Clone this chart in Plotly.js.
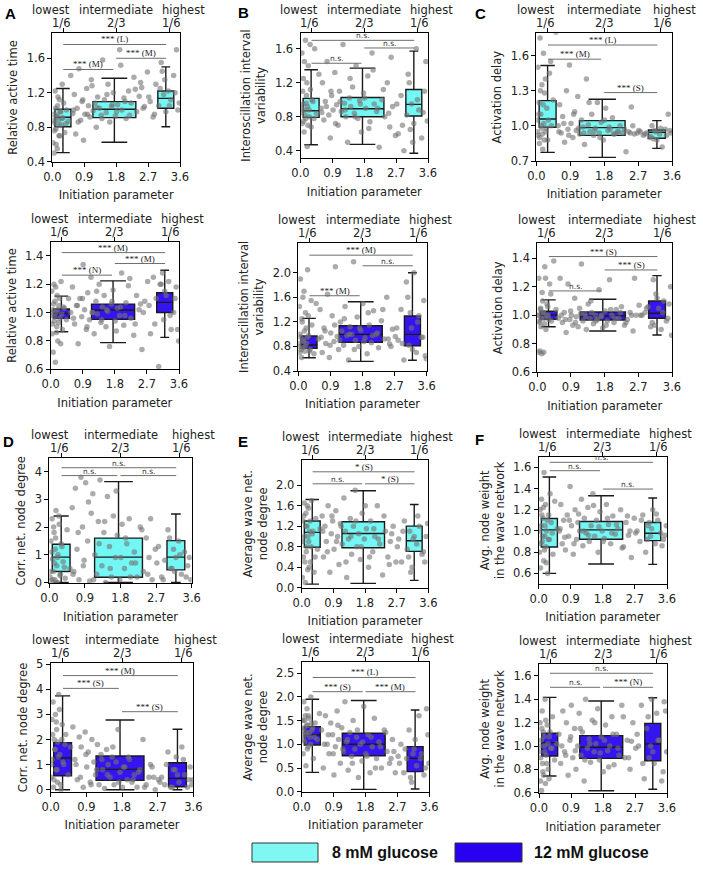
<!DOCTYPE html>
<html><head><meta charset="utf-8">
<script src="https://cdn.plot.ly/plotly-3.0.1.min.js"></script>
<style>html,body{margin:0;padding:0;background:#fff}#chart{width:703px;height:869px}</style>
</head><body><div id="chart"></div>
<script>
// ---------------- DATA ----------------
const TOP_TICK_WORD = ['lowest', 'intermediate', 'highest'];
const TOP_TICK_FRAC = ['1/6', '2/3', '1/6'];
const X_TITLE = 'Initiation parameter';
const LEGEND_LABELS = ['8 mM glucose', '12 mM glucose'];

// initiation parameter of each cell (8 mM and 12 mM)
const X8 = [0.02,0.04,0.05,0.07,0.08,0.10,0.12,0.14,0.15,0.17,0.19,0.20,0.22,0.25,0.28,0.30,0.35,0.40,0.45,0.52,
0.58,0.62,0.66,0.70,0.75,0.80,0.84,0.88,0.92,0.97,1.02,1.06,1.10,1.15,1.20,1.24,1.28,1.33,1.38,1.42,
1.47,1.52,1.57,1.62,1.67,1.72,1.78,1.84,1.90,1.96,2.02,2.08,2.15,2.22,2.30,2.38,2.45,2.52,2.60,2.68,
2.76,2.84,2.92,3.00,3.07,3.14,3.20,3.27,3.34,3.42,3.50,3.58,
0.03,0.06,0.09,0.11,0.13,0.16,0.18,0.21,0.24,0.27,0.32,0.38,
0.60,0.73,0.86,0.99,1.12,1.26,1.40,1.54,1.69,1.81,1.93,2.05,2.18,2.34,2.49,2.56,
2.72,2.88,3.04,3.17,3.30,3.46,3.54,3.10];
const X12 = [0.01,0.03,0.04,0.06,0.07,0.09,0.10,0.12,0.13,0.15,0.17,0.18,0.20,0.23,0.26,0.29,0.33,0.38,0.44,0.50,
0.56,0.61,0.67,0.72,0.77,0.82,0.87,0.91,0.95,1.00,1.04,1.09,1.13,1.18,1.22,1.27,1.31,1.36,1.41,1.45,
1.50,1.55,1.60,1.65,1.70,1.75,1.81,1.87,1.93,1.99,2.05,2.11,2.18,2.25,2.33,2.41,2.48,2.56,2.64,2.72,
2.80,2.88,2.96,3.03,3.10,3.17,3.24,3.31,3.38,3.45,3.52,3.59,
0.02,0.05,0.08,0.11,0.14,0.16,0.19,0.22,0.25,0.28,0.31,0.36,
0.64,0.75,0.89,1.02,1.16,1.29,1.43,1.57,1.72,1.84,1.96,2.08,2.22,2.37,2.52,2.60,
2.76,2.92,3.07,3.20,3.35,3.49,3.56,3.14];

// per-cell values
const A1_Y = [0.62,0.95,0.50,0.85,1.22,0.78,0.92,0.55,1.05,0.88,0.70,1.12,0.98,0.83,1.30,0.91,0.74,1.00,0.87,1.40,
0.96,1.18,0.72,1.02,1.48,0.88,1.10,0.65,0.95,1.25,1.05,0.92,1.35,0.99,1.08,0.80,1.15,1.02,0.94,1.58,
1.12,0.97,1.30,0.86,1.04,1.20,0.93,1.06,1.70,1.00,1.14,0.90,1.22,1.08,1.38,0.98,1.16,1.26,1.04,1.44,
1.10,0.92,1.30,1.05,1.55,1.18,0.98,1.22,1.12,1.40,1.70,1.08,
0.88,0.76,1.02,0.60,0.94,1.15,0.82,0.70,0.98,0.90,1.08,0.84,
1.00,0.86,1.12,0.95,1.28,1.03,0.90,1.18,1.06,0.98,1.52,1.10,0.94,1.24,1.32,1.02,
1.15,0.95,1.25,1.35,1.05,1.20,1.00,1.45];
const B1_Y = [0.85,1.55,0.72,0.95,1.25,0.62,0.88,1.70,0.78,1.05,0.45,0.92,1.40,0.80,1.12,0.68,0.98,1.60,0.84,1.30,
0.90,1.20,0.76,0.98,1.45,0.82,0.55,1.05,0.88,1.32,0.94,0.70,1.10,0.86,1.65,0.96,0.80,0.50,1.02,0.92,
1.15,0.84,1.40,0.78,0.99,0.62,1.08,0.90,1.28,0.74,1.55,0.95,0.86,0.44,1.00,0.80,1.20,0.68,0.92,0.58,
0.60,1.05,0.40,0.82,1.20,0.95,0.72,1.60,0.88,0.55,1.10,0.75,
0.90,1.10,0.75,1.45,0.82,0.96,1.20,0.70,0.88,1.65,1.00,0.78,
0.85,0.92,1.10,0.72,0.98,0.88,1.25,0.80,0.95,1.02,0.66,1.35,0.90,1.12,0.84,1.50,
0.95,0.70,1.30,0.50,1.00,0.85,1.45,0.65];
const C1_Y = [1.05,1.50,0.92,1.20,0.85,1.75,1.10,0.98,1.35,0.80,1.62,1.02,1.28,0.95,1.15,0.88,1.45,1.00,1.22,1.80,
1.00,1.18,0.94,1.08,0.86,1.30,0.97,1.52,1.02,0.90,1.12,0.96,1.25,0.93,1.05,0.99,0.84,1.40,1.01,0.95,
1.10,0.92,0.98,1.20,0.94,1.03,0.88,1.15,0.96,0.97,1.07,0.93,0.95,1.00,0.94,0.78,0.95,1.16,0.93,0.94,
0.95,0.92,0.94,0.90,1.00,0.96,0.88,0.93,0.82,0.97,1.10,0.94,
0.95,1.10,0.90,1.30,1.00,0.93,1.18,0.88,1.40,0.98,1.05,1.55,
0.95,1.02,0.92,1.10,0.98,0.94,1.20,0.96,0.90,1.05,0.99,0.93,0.95,0.97,0.94,1.00,
0.96,0.93,0.91,0.95,0.98,0.92,0.96,0.89];
const A2_Y = [0.98,1.15,0.85,1.02,0.72,1.20,0.94,1.08,0.65,1.00,0.90,1.12,0.80,1.05,0.96,1.22,0.88,1.03,0.95,1.10,
1.00,1.18,0.92,1.05,0.78,1.10,0.97,1.34,1.02,0.88,1.14,0.95,1.25,1.00,0.85,1.08,0.99,1.20,0.93,1.04,
1.12,0.90,1.01,0.76,1.06,1.16,0.94,1.03,0.98,1.28,0.91,1.07,1.19,0.96,0.84,1.12,1.02,0.74,1.08,1.22,
0.85,1.25,1.10,0.62,1.20,0.95,1.12,1.22,0.88,1.00,1.18,0.80,
1.00,0.92,1.06,0.97,1.18,0.86,1.02,0.93,1.10,0.78,0.99,1.04,
0.96,1.05,1.10,0.90,1.00,1.15,0.95,1.02,1.08,0.87,1.04,0.98,1.24,0.92,1.06,1.00,
1.05,0.92,1.20,1.15,0.98,1.10,0.88,1.28];
const B2_Y = [0.80,1.45,0.70,1.90,0.95,0.62,1.25,0.78,1.60,0.88,1.05,0.72,1.35,0.85,2.05,0.98,0.75,1.15,0.68,1.50,
0.92,1.40,0.70,1.10,0.85,1.65,0.62,1.02,1.30,0.88,2.10,0.96,0.75,1.20,1.05,0.82,1.45,0.98,0.58,1.12,
1.00,2.18,0.90,1.28,0.80,1.06,1.50,0.94,0.68,1.15,0.86,1.38,1.00,0.78,1.22,0.92,1.60,0.84,1.08,0.96,
0.90,1.40,0.58,1.85,0.82,1.10,2.00,0.70,1.30,0.95,1.55,0.60,
0.85,1.00,0.75,1.20,0.90,1.70,0.80,1.10,0.95,1.30,0.72,1.55,
0.95,1.05,0.82,1.15,0.90,1.25,1.00,0.75,1.10,0.88,1.35,0.98,1.02,1.40,0.92,0.80,
1.10,0.85,1.60,0.75,1.20,0.95,0.65,1.35];
const C2_Y = [1.00,0.74,1.26,0.95,0.75,1.05,0.92,0.73,1.16,1.02,0.74,0.98,1.34,0.90,1.08,1.00,1.22,0.96,1.38,1.04,
0.98,1.26,0.95,1.02,0.88,1.22,0.97,1.00,0.93,1.12,0.99,0.92,1.05,1.36,0.96,1.01,0.90,1.08,0.98,1.02,
0.94,1.00,0.97,1.18,0.99,0.91,1.03,0.96,1.25,1.00,0.95,1.04,0.98,1.06,0.93,0.97,1.02,0.89,1.00,1.07,
1.00,1.02,1.06,0.92,1.25,1.15,1.05,0.90,1.10,0.96,1.08,0.86,
1.00,0.96,1.04,0.98,1.10,1.02,0.94,1.26,1.00,1.06,0.97,1.15,
1.00,0.97,1.03,0.95,1.01,0.99,1.10,0.96,1.00,0.93,1.04,0.98,1.02,0.95,1.00,1.26,
1.00,1.05,0.95,1.12,1.02,0.98,1.20,0.93];
const D1_Y = [0.20,1.50,0.05,2.30,0.85,0.40,1.80,0.10,1.20,2.60,0.60,0.00,1.00,2.10,0.30,1.40,0.75,0.15,1.90,0.50,
2.70,0.40,3.40,1.20,0.10,3.80,2.00,0.80,3.60,1.50,0.05,2.50,3.20,1.00,0.30,2.20,3.70,0.60,1.80,0.00,
3.10,1.30,0.20,2.40,0.90,1.70,0.10,2.10,0.50,1.40,2.30,0.70,1.10,0.20,2.00,0.40,1.60,0.90,0.10,1.20,
1.30,0.20,0.80,1.90,0.50,1.20,0.90,1.50,0.30,1.10,0.60,0.10,
0.40,1.10,0.10,2.00,0.70,1.60,0.00,0.90,2.40,0.25,1.30,0.55,
0.30,1.80,0.60,2.90,0.10,1.40,2.20,0.50,3.30,0.90,1.60,0.20,0.70,1.90,0.30,2.30,
0.70,0.10,1.60,0.40,1.00,0.20,0.90,0.50];
const E1_Y = [0.20,1.30,0.60,1.65,1.00,0.10,1.45,0.80,1.20,0.35,1.55,0.90,1.10,0.50,1.70,1.05,0.30,1.35,0.75,1.15,
1.40,0.60,1.20,0.90,1.60,0.30,1.05,1.30,0.75,1.50,1.00,0.45,1.25,0.85,1.75,1.10,0.20,0.95,1.35,0.65,
1.20,1.90,0.80,1.05,0.55,1.45,0.95,1.15,0.40,1.30,0.70,1.00,1.60,0.85,0.25,1.10,0.60,0.90,1.20,0.50,
0.95,0.50,1.30,0.75,1.10,0.40,1.00,0.85,1.20,0.65,0.50,1.25,
0.90,1.40,0.50,1.20,0.70,1.60,1.00,0.40,1.30,0.80,1.10,0.60,
1.10,0.70,1.40,0.90,1.20,0.50,1.00,1.30,0.80,1.60,0.60,1.15,0.95,1.40,0.45,1.05,
0.80,1.10,0.60,0.95,1.40,0.70,1.00,0.30];
const F1_Y = [0.80,1.20,0.65,1.05,1.30,0.90,1.12,0.72,1.55,0.95,1.25,0.85,1.00,0.60,1.15,0.92,1.08,0.78,1.28,1.02,
1.00,1.25,0.88,1.10,0.82,1.15,0.95,1.42,1.05,0.78,1.20,0.92,1.08,1.00,1.30,0.86,1.12,0.98,1.22,0.90,
1.05,1.35,0.95,1.10,0.80,1.18,1.00,0.93,1.25,1.06,0.88,1.14,0.97,1.02,1.20,0.85,1.08,0.96,0.75,1.12,
1.00,0.90,1.15,0.80,1.05,0.95,1.20,0.88,1.10,0.98,0.92,1.05,
1.00,0.88,1.15,0.95,1.22,0.82,1.05,0.70,1.10,0.92,1.35,0.98,
1.02,0.94,1.10,0.88,1.16,1.00,0.96,1.24,1.04,0.90,1.12,0.98,1.06,0.84,1.14,1.00,
0.98,1.10,0.92,1.02,1.16,0.86,0.96,1.08];
const D2_Y = [0.50,2.80,1.20,3.50,0.10,2.00,1.60,3.00,0.80,2.40,0.30,1.90,3.80,1.40,0.00,2.60,1.00,2.20,0.60,1.70,
2.50,1.20,0.40,2.10,1.70,0.10,2.30,0.90,1.50,0.30,2.00,1.10,0.60,1.80,0.20,1.40,0.80,0.05,1.60,1.00,
0.50,1.30,0.20,1.10,2.40,0.70,0.10,0.90,0.40,1.20,0.30,0.60,0.10,0.80,2.00,0.20,0.50,0.90,0.00,0.40,
0.50,0.20,1.50,0.10,0.80,1.30,0.30,1.70,0.60,0.10,0.90,0.40,
1.00,2.20,0.40,1.60,2.70,0.80,1.30,3.20,0.20,2.00,1.10,1.80,
1.00,0.50,1.40,0.20,0.80,1.20,0.60,1.70,0.30,0.90,1.30,0.40,0.70,0.10,1.00,0.50,
0.30,1.00,0.10,0.60,1.20,0.40,0.20,0.80];
const E2_Y = [1.20,1.50,0.80,1.90,1.35,1.05,1.60,0.55,1.25,1.75,1.40,0.95,1.55,1.15,2.00,1.30,0.70,1.45,1.10,1.65,
1.30,0.50,1.60,1.00,0.80,1.45,1.20,0.35,0.95,1.70,1.10,0.60,1.35,0.85,1.90,1.05,0.45,1.25,0.75,1.50,
0.90,1.15,0.30,1.00,0.65,1.80,0.80,1.20,0.40,0.95,1.55,0.70,1.05,0.50,1.30,0.85,0.60,1.10,0.40,0.75,
1.00,0.40,0.70,1.30,0.20,0.90,0.55,1.60,0.80,0.35,1.75,0.60,
1.30,1.10,1.50,1.20,1.40,0.90,1.60,1.25,1.00,1.45,1.35,1.15,
1.00,1.20,0.80,1.40,0.90,1.10,0.60,1.30,1.05,0.75,1.15,0.50,0.95,1.25,0.70,0.85,
0.60,0.90,0.30,1.10,0.70,0.50,1.20,0.80];
const F2_Y = [0.95,1.20,0.70,1.05,0.62,1.30,0.85,1.12,0.75,1.00,1.40,0.68,0.92,1.18,0.80,1.08,0.98,1.25,0.88,1.02,
1.10,0.85,1.30,0.95,1.20,0.75,1.05,1.35,0.90,1.15,0.80,1.00,1.28,0.92,1.12,0.70,1.40,0.98,1.06,0.86,
1.22,0.95,1.02,1.32,0.88,1.08,0.78,1.18,0.96,1.00,1.25,0.84,1.10,0.92,1.35,0.90,1.05,0.80,1.20,0.98,
1.00,1.35,0.72,1.15,0.90,1.40,0.85,1.28,1.05,0.70,1.38,0.95,
1.00,0.90,1.15,0.78,1.08,0.95,1.22,0.85,1.02,0.72,1.12,0.98,
1.00,0.92,1.08,0.96,1.15,0.88,1.02,1.20,0.94,1.05,0.82,1.10,0.98,1.25,0.90,1.04,
1.10,0.85,1.25,0.95,1.05,0.78,1.30,1.00];

// box statistics per group (lowest, intermediate, highest): [lowerfence, q1, median, q3, upperfence]
const A1_BOX = [[0.505,0.806,0.915,1.008,1.25],[0.625,0.911,1.008,1.097,1.368],[0.806,1.02,1.135,1.22,1.50]];
const B1_BOX = [[0.47,0.792,0.871,1.016,1.353],[0.474,0.80,0.894,1.027,1.373],[0.369,0.808,0.945,1.12,1.573]];
const C1_BOX = [[0.774,0.988,1.059,1.215,1.515],[0.731,0.919,0.985,1.045,1.227],[0.808,0.894,0.945,0.965,1.045]];
const A2_BOX = [[0.865,0.959,0.994,1.025,1.116],[0.788,0.952,1.018,1.06,1.224],[0.825,1.001,1.072,1.14,1.299]];
const B2_BOX = [[0.617,0.769,0.823,0.969,1.257],[0.557,0.866,0.997,1.138,1.528],[0.574,0.812,0.997,1.295,2.0]];
const C2_BOX = [[0.92,0.972,1.002,1.028,1.108],[0.89,0.967,0.995,1.023,1.112],[0.862,0.979,1.014,1.10,1.278]];
const D1_BOX = [[0,0.396,0.913,1.38,2.40],[0,0.19,0.913,1.60,3.64],[0,0.456,0.913,1.51,2.47]];
const E1_BOX = [[0.07,0.79,1.078,1.30,1.72],[0.084,0.779,1.058,1.286,1.89],[0.143,0.708,0.916,1.20,1.623]];
const F1_BOX = [[0.60,0.849,1.01,1.117,1.509],[0.688,0.922,1.01,1.089,1.332],[0.685,0.909,0.979,1.08,1.31]];
const D2_BOX = [[0,0.559,1.263,1.875,3.74],[0,0.372,0.811,1.343,2.78],[0,0.12,0.452,1.077,2.41]];
const E2_BOX = [[0.408,0.986,1.197,1.373,1.95],[0.05,0.76,1.0,1.232,1.923],[0.056,0.423,0.704,0.951,1.725]];
const F2_BOX = [[0.743,0.914,1.029,1.109,1.417],[0.617,0.894,0.990,1.089,1.386],[0.63,0.874,1.017,1.194,1.414]];

// significance labels for comparisons (lowest-intermediate, intermediate-highest, lowest-highest)
const A1_SIG = ['*** (M)','*** (M)','*** (L)'];
const B1_SIG = ['n.s.','n.s.','n.s.'];
const C1_SIG = ['*** (M)','*** (S)','*** (L)'];
const A2_SIG = ['*** (N)','*** (M)','*** (M)'];
const B2_SIG = ['*** (M)','n.s.','*** (M)'];
const C2_SIG = ['n.s.','*** (S)','*** (S)'];
const D1_SIG = ['n.s.','n.s.','n.s.'];
const E1_SIG = ['n.s.','* (S)','* (S)'];
const F1_SIG = ['n.s.','n.s.','n.s.'];
const D2_SIG = ['*** (S)','*** (S)','*** (M)'];
const E2_SIG = ['*** (S)','*** (M)','*** (L)'];
const F2_SIG = ['n.s.','*** (N)','n.s.'];

// ---------------- LAYOUT / STYLE ----------------
const W = 703, H = 869;
const FONT = 'DejaVu Sans';
const BOX_POS = [0.30, 1.75, 3.20];
const BOX_W = [0.45, 1.21, 0.45];
const WHISK = [0.85, 0.6, 0.55];
const SIG_X = [[0.31,1.72],[1.80,3.21],[0.31,3.21]];
const TOP_TICKS = [0.31, 1.8, 3.3];
const WORD_SHIFT = [-12, 0, 14];
const FRAC_SHIFT = [-2, 0, 2];
const FILL8 = 'rgba(0,240,235,0.55)';
const FILL12 = 'rgba(35,0,238,0.92)';

const PANELS = [
 {y:A1_Y, box:A1_BOX, sig:A1_SIG, sigY:[1.47,1.60,1.76], c:8, title:'Relative active time', yr:[0.4,1.89], yt:[0.4,0.8,1.2,1.6], f:'.1f', d:[52.3,180,33.3,161.7]},
 {y:B1_Y, box:B1_BOX, sig:B1_SIG, sigY:[1.43,1.61,1.70], c:8, title:'Interoscillation interval<br>variability', yr:[0.31,1.79], yt:[0.4,0.8,1.2,1.6], f:'.1f', d:[300.5,428,32.7,158.3]},
 {y:C1_Y, box:C1_BOX, sig:C1_SIG, sigY:[1.569,1.284,1.69], c:8, title:'Activation delay', yr:[0.7,1.79], yt:[0.7,1.0,1.3,1.6], f:'.1f', d:[536.3,672,33.3,161]},
 {y:A2_Y, box:A2_BOX, sig:A2_SIG, sigY:[1.264,1.346,1.423], c:12, title:'Relative active time', yr:[0.6,1.5], yt:[0.6,0.8,1.0,1.2,1.4], f:'.1f', d:[50.7,179,241.7,369.3]},
 {y:B2_Y, box:B2_BOX, sig:B2_SIG, sigY:[1.626,2.114,2.287], c:12, title:'Interoscillation interval<br>variability', yr:[0.4,2.49], yt:[0.4,0.8,1.2,1.6,2.0], f:'.1f', d:[298.3,426.7,242.7,371]},
 {y:C2_Y, box:C2_BOX, sig:C2_SIG, sigY:[1.171,1.318,1.412], c:12, title:'Activation delay', yr:[0.6,1.505], yt:[0.6,0.8,1.0,1.2,1.4], f:'.1f', d:[537.3,672,243.3,372.3]},
 {y:D1_Y, box:D1_BOX, sig:D1_SIG, sigY:[3.856,3.856,4.14], c:8, title:'Corr. net. node degree', yr:[-0.03,4.48], yt:[0,1,2,3,4], f:'d', d:[49.3,191.7,458.3,583.3]},
 {y:E1_Y, box:E1_BOX, sig:E1_SIG, sigY:[2.026,2.026,2.26], c:8, title:'Average wave net.<br>node degree', yr:[0,2.49], yt:[0,0.4,0.8,1.2,1.6,2.0], f:'.1f', d:[301.7,428.3,460,587.7]},
 {y:F1_Y, box:F1_BOX, sig:F1_SIG, sigY:[1.568,1.395,1.647], c:8, title:'Avg. node weight<br>in the wave network', yr:[0.5,1.70], yt:[0.6,0.8,1.0,1.2,1.4,1.6], f:'.1f', d:[538.7,667,456.7,584]},
 {y:D2_Y, box:D2_BOX, sig:D2_SIG, sigY:[4.04,3.11,4.55], c:12, title:'Corr. net. node degree', yr:[-0.08,5.04], yt:[0,1,2,3,4,5], f:'d', d:[50.7,193.3,663.3,791.7]},
 {y:E2_Y, box:E2_BOX, sig:E2_SIG, sigY:[2.11,2.11,2.41], c:12, title:'Average wave net.<br>node degree', yr:[0,2.73], yt:[0,0.5,1.0,1.5,2.0,2.5], f:'.1f', d:[301.7,429.3,662.3,791.7]},
 {y:F2_Y, box:F2_BOX, sig:F2_SIG, sigY:[1.503,1.503,1.623], c:12, title:'Avg. node weight<br>in the wave network', yr:[0.595,1.70], yt:[0.6,0.8,1.0,1.2,1.4,1.6], f:'.1f', d:[539,667,664.3,793.3]}
];

const traces = [];
const layout = {
  width: W, height: H, margin:{l:0,r:0,t:0,b:0},
  paper_bgcolor:'#fff', plot_bgcolor:'rgba(0,0,0,0)',
  showlegend:false, boxmode:'overlay',
  font:{family:FONT, size:11.5, color:'#222'},
  shapes:[], annotations:[]
};
const tickFont = {family:FONT, size:11.5, color:'#222'};

PANELS.forEach((p, i) => {
  const n = i + 1;
  const xa = n === 1 ? 'x' : 'x' + n;
  const ya = n === 1 ? 'y' : 'y' + n;
  const xt = 'x' + (n + 12);
  const xs = p.c === 8 ? X8 : X12;
  const fill = p.c === 8 ? FILL8 : FILL12;

  traces.push({type:'scatter', mode:'markers', x:xs, y:p.y, xaxis:xa, yaxis:ya,
    marker:{color:'rgba(115,115,115,0.6)', size:5.5, line:{width:0}}, hoverinfo:'skip'});
  p.box.forEach((s, g) => {
    traces.push({type:'box', x:[BOX_POS[g]], lowerfence:[s[0]], q1:[s[1]], median:[s[2]], q3:[s[3]], upperfence:[s[4]],
      width:BOX_W[g], whiskerwidth:WHISK[g], fillcolor:fill, line:{color:'#1a1a1a', width:1.4},
      boxpoints:false, xaxis:xa, yaxis:ya, hoverinfo:'skip'});
  });
  traces.push({type:'scatter', mode:'markers', x:[], y:[], xaxis:xt, yaxis:ya, hoverinfo:'skip'});

  const [l, r, t, b] = p.d;
  const topY = 1 - t / H;
  layout['xaxis' + (n === 1 ? '' : n)] = {
    domain:[l / W, r / W], anchor:ya, range:[0, 3.6], tickvals:[0, 0.9, 1.8, 2.7, 3.6], tickformat:'.1f',
    ticks:'outside', ticklen:4, tickwidth:1, tickcolor:'#000', showline:true, linecolor:'#000', linewidth:1,
    mirror:true, showgrid:false, zeroline:false, tickfont:tickFont, tickangle:0,
    title:{text:X_TITLE, font:tickFont, standoff:8}
  };
  layout['xaxis' + (n + 12)] = {
    overlaying:xa, side:'top', anchor:ya, range:[0, 3.6], tickvals:TOP_TICKS,
    ticks:'outside', ticklen:4, tickwidth:1, tickcolor:'#000', showline:false, showgrid:false, zeroline:false,
    showticklabels:false
  };
  layout['yaxis' + (n === 1 ? '' : n)] = {
    domain:[1 - b / H, topY], anchor:xa, range:p.yr, tickvals:p.yt, tickformat:p.f,
    ticks:'outside', ticklen:4, tickwidth:1, tickcolor:'#000', showline:true, linecolor:'#000', linewidth:1,
    mirror:true, showgrid:false, zeroline:false, tickfont:tickFont,
    title:{text:p.title, font:tickFont, standoff:6}
  };

  // top category labels
  TOP_TICKS.forEach((tv, k) => {
    layout.annotations.push({xref:xt, yref:'paper', x:tv, y:topY, yanchor:'middle', xanchor:'center',
      text:TOP_TICK_WORD[k], showarrow:false, xshift:WORD_SHIFT[k], yshift:23, font:tickFont});
    layout.annotations.push({xref:xt, yref:'paper', x:tv, y:topY, yanchor:'middle', xanchor:'center',
      text:TOP_TICK_FRAC[k], showarrow:false, xshift:FRAC_SHIFT[k], yshift:10, font:tickFont});
  });

  p.sig.forEach((lab, k) => {
    const [x0, x1] = SIG_X[k];
    layout.shapes.push({type:'line', xref:xa, yref:ya, x0:x0, x1:x1, y0:p.sigY[k], y1:p.sigY[k],
      line:{color:'#6e6e6e', width:1}});
    const ns = lab === 'n.s.';
    layout.annotations.push({xref:xa, yref:ya, x:(x0 + x1) / 2, y:p.sigY[k], text:lab, showarrow:false,
      yanchor:'bottom', yshift:-2,
      font: ns ? {family:FONT, size:7.5, color:'#333'} : {family:'Liberation Serif', size:9, color:'#222'}});
  });
});

// panel letters
const LETTERS = [['A',3,3],['B',236,2],['C',473,3],['D',1,431],['E',236,431],['F',473,429]];
LETTERS.forEach(([t, x, y]) => layout.annotations.push({xref:'paper', yref:'paper', x:x / W, y:1 - y / H,
  xanchor:'left', yanchor:'top', text:'<b>' + t + '</b>', showarrow:false,
  font:{family:'Liberation Sans', size:15, color:'#000'}}));

// legend
const LEG = [[252,318,'#7ff8f4',330],[455,522,'#2a00f0',532]];
LEG.forEach(([x0, x1, col, tx], k) => {
  layout.shapes.push({type:'rect', xref:'paper', yref:'paper', x0:x0 / W, x1:x1 / W, y0:1 - 862 / H, y1:1 - 843 / H,
    fillcolor:col, line:{color:'#333', width:1}});
  layout.annotations.push({xref:'paper', yref:'paper', x:tx / W, y:1 - 852.5 / H, xanchor:'left', yanchor:'middle',
    text:'<b>' + LEGEND_LABELS[k] + '</b>', showarrow:false, font:{family:'Liberation Sans', size:16, color:'#111'}});
});

Plotly.newPlot('chart', traces, layout, {staticPlot:true, displayModeBar:false});
</script></body></html>
